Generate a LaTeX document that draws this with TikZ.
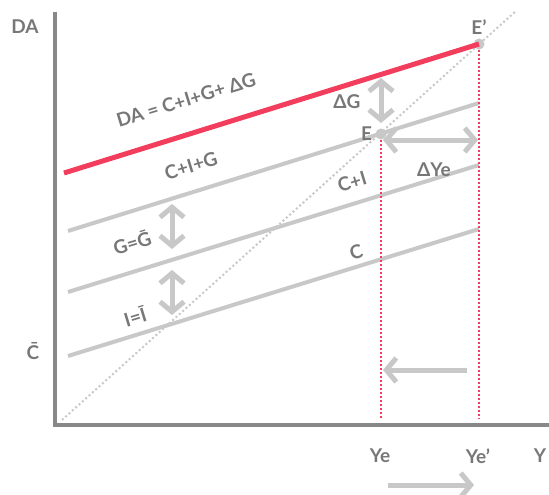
\documentclass[tikz,border=0pt]{standalone}
\usepackage{fontspec}
\setmainfont{Lato}
\usepackage{tikz}
\usetikzlibrary{arrows.meta, positioning}

\definecolor{axisgray}{HTML}{888888}
\definecolor{linegray}{HTML}{C8C8C8}
\definecolor{txtgray}{HTML}{777777}
\definecolor{darose}{HTML}{F23E5C}

\begin{document}
\begin{tikzpicture}[
                x=1pt, y=-1pt,
                every node/.style={text=txtgray, font=\bfseries\fontsize{19}{22}\selectfont, inner sep=1pt},
                axis/.style={draw=axisgray, line width=4pt},
                curve/.style={draw=linegray, line width=4pt},
                shiftarrow/.style={draw=linegray, line width=5pt, {Straight Barb[length=10pt, width=24pt]}-{Straight Barb[length=10pt, width=24pt]}},
                onedir/.style={draw=linegray, line width=5pt, -{Straight Barb[length=10pt, width=24pt]}},
                guide/.style={draw=darose, line width=2pt, dash pattern=on 2pt off 2pt},
                dot/.style={circle, fill=linegray, minimum size=11pt, inner sep=0pt}
            ]
            \useasboundingbox (0,0) rectangle (549,495);
            % axes
            \coordinate (top) at (55,12);
            \coordinate (origin) at (55,425);
            \coordinate (right) at (549,425);
            \draw[axis] (top) -- (55,427) (53,425) -- (right);
            % 45 degree line
            \coordinate (d0) at (62,420);
            \coordinate (d1) at (516,11);
            \draw[draw=linegray, line width=2pt, dash pattern=on 2pt off 2.5pt] (d0) -- (d1);
            % demand lines
            \coordinate (c0) at (68,356);
            \coordinate (c1) at (479,229);
            \coordinate (ci0) at (68,292);
            \coordinate (ci1) at (479,165);
            \coordinate (cig0) at (68,231);
            \coordinate (cig1) at (479,103);
            \coordinate (da0) at (64,173);
            \draw[curve] (c0) -- (c1);
            \draw[curve] (ci0) -- (ci1);
            \draw[curve] (cig0) -- (cig1);
            \node[dot] (E) at (381,134) {};
            \node[dot] (Ep) at (479,44) {};
            \draw[draw=darose, line width=5pt] (da0) -- (Ep.center);
            % guides to the axis
            \coordinate (ye) at (381,418);
            \coordinate (yep) at (479,418);
            \draw[guide] (E.south) -- (ye);
            \draw[guide] (Ep.south) -- (yep);
            % labels
            \node (DA) at (25,27) {DA};
            \node (Cbar) at (33,351) {\=C};
            \node (Ye) at (380,456) {Ye};
            \node (Yep) at (478,456) {Ye’};
            \node (Y) at (540,456) {Y};
            \node[left=2pt of E] (Elab) {E};
            \node[above=3pt of Ep] (Eplab) {E’};
            \node[rotate=17] (lDA) at (186,100) {DA = C+I+G+ ΔG};
            \node[rotate=17] (lCIG) at (191,166) {C+I+G};
            \node[rotate=17] (lG) at (132,242) {G=\=G};
            \node[rotate=17] (lI) at (135,316) {I=\=I};
            \node[rotate=17] (lCI) at (352,182) {C+I};
            \node[rotate=17] (lC) at (356,252) {C};
            \node (lDG) at (347,102) {ΔG};
            \node (lDY) at (434,170) {ΔYe};
            % shift arrows
            \coordinate (g0) at (172,204);
            \coordinate (g1) at (172,249);
            \coordinate (i0) at (172,270);
            \coordinate (i1) at (172,315);
            \coordinate (dg0) at (381,78);
            \coordinate (dg1) at (381,123);
            \coordinate (dy0) at (383,140);
            \coordinate (dy1) at (478,140);
            \coordinate (back0) at (467,370);
            \coordinate (back1) at (383,370);
            \coordinate (fwd0) at (388,485);
            \coordinate (fwd1) at (474,485);
            \draw[shiftarrow] (g0) -- (g1);
            \draw[shiftarrow] (i0) -- (i1);
            \draw[shiftarrow] (dg0) -- (dg1);
            \draw[shiftarrow] (dy0) -- (dy1);
            \draw[onedir] (back0) -- (back1);
            \draw[onedir] (fwd0) -- (fwd1);
        \end{tikzpicture}
\end{document}
